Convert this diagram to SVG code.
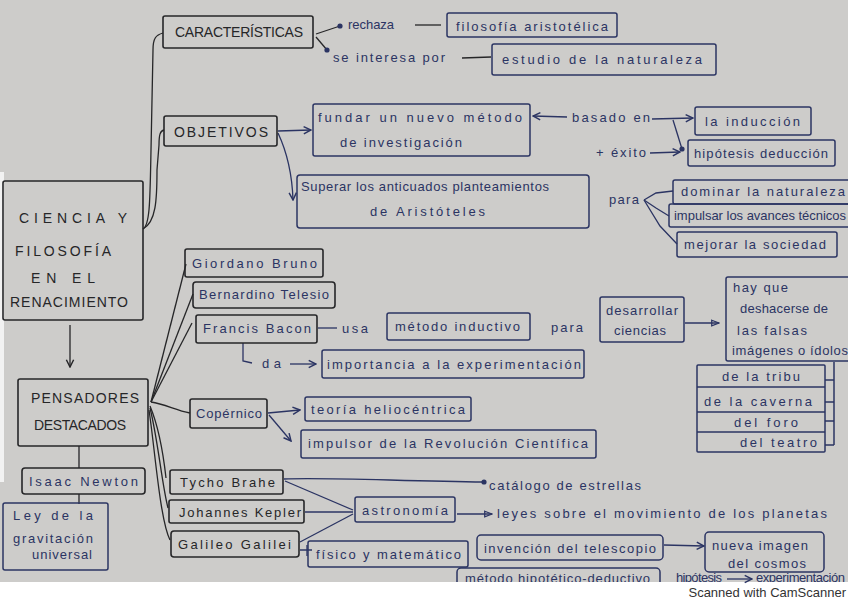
<svg xmlns="http://www.w3.org/2000/svg" width="848" height="600" viewBox="0 0 848 600">
<defs>
<style>
.k{fill:none;stroke:#262628;stroke-width:1.6;stroke-linejoin:round}
.u{fill:none;stroke:#2b3463;stroke-width:1.5;stroke-linejoin:round}
.c{fill:none;stroke:#2b3463;stroke-width:1.3}
.ck{fill:none;stroke:#262628;stroke-width:1.3}
text{font-family:"Liberation Sans","DejaVu Sans",sans-serif;font-size:13px;fill:#2b3463;lengthAdjust:spacing}
.tk{fill:#262628}
.cap{font-size:14px;fill:#262628}
</style>
<clipPath id="paper"><rect x="0" y="0" width="848" height="582"/></clipPath>
<marker id="ar" viewBox="0 0 10 10" refX="9" refY="5" markerWidth="7" markerHeight="7" orient="auto"><path d="M1,1 L9,5 L1,9" fill="none" stroke="#2b3463" stroke-width="1.6"/></marker>
<marker id="ark" viewBox="0 0 10 10" refX="9" refY="5" markerWidth="7" markerHeight="7" orient="auto"><path d="M1,1 L9,5 L1,9" fill="none" stroke="#262628" stroke-width="1.6"/></marker>
<marker id="dot" viewBox="0 0 10 10" refX="5" refY="5" markerWidth="5" markerHeight="5"><circle cx="5" cy="5" r="4" fill="#2b3463"/></marker>
<marker id="tri" viewBox="0 0 10 10" refX="9" refY="5" markerWidth="7" markerHeight="7" orient="auto"><path d="M1,2 L9,5 L1,8 Z" fill="none" stroke="#2b3463" stroke-width="1.4"/></marker>
</defs>
<rect x="0" y="0" width="848" height="600" fill="#ffffff"/>
<rect x="0" y="0" width="848" height="582" fill="#cdccca"/>
<rect x="0" y="172" width="4" height="310" fill="#f2f2f2"/>

<g id="connectors">
<path class="ck" d="M143,229 C150,225 150,200 151,150 L153,50 C153,38 156,35 163,33"/>
<path class="ck" d="M143,229 C156,222 157,200 157,170 L159,145 C159,135 160,131 164,130"/>
<path class="ck" d="M316,34 L340,26" marker-end="url(#dot)"/>
<path class="ck" d="M415,25 L441,25"/>
<path class="ck" d="M316,37 L327,50" marker-end="url(#dot)"/>
<path class="ck" d="M462,58 L491,57"/>
<path class="c" d="M278,131 L311,130" marker-end="url(#ar)"/>
<path class="c" d="M278,133 C286,150 292,170 293,200" marker-end="url(#ar)"/>
<path class="c" d="M567,117 L533,116" marker-end="url(#ar)"/>
<path class="c" d="M652,119 L693,118" marker-end="url(#ar)"/>
<path class="c" d="M673,120 L682,149" marker-end="url(#dot)"/>
<path class="c" d="M650,153 L680,152" marker-end="url(#ar)"/>
<path class="c" d="M644,200 L656,193 L673,191"/>
<path class="c" d="M644,200 L656,208 L669,216"/>
<path class="c" d="M644,200 L660,226 L677,244"/>
<path class="ck" d="M70,325 L70,367" marker-end="url(#ark)"/>
<path class="ck" d="M79,446 L79,468 M79,494 L79,504"/>
<path class="ck" d="M151,402 L186,264"/>
<path class="ck" d="M151,402 L193,294"/>
<path class="ck" d="M151,402 L192,323"/>
<path class="ck" d="M151,402 C165,404 175,410 190,413"/>
<path class="ck" d="M150,406 C160,430 164,460 166,478"/>
<path class="ck" d="M150,408 C158,440 162,485 168,508"/>
<path class="ck" d="M149,410 C155,450 160,520 170,540"/>
<path class="c" d="M318,328 L337,328"/>
<path class="c" d="M243,343 L243,361 L252,363"/>
<path class="c" d="M290,364 L316,364" marker-end="url(#ar)"/>
<path class="c" d="M685,323 L719,323" marker-end="url(#tri)"/>
<path class="u" d="M825,380 L834,380 M825,402 L834,402 M825,421 L834,421 M825,445 L834,445 M834,362 L834,445"/>
<path class="c" d="M268,413 L300,410" marker-end="url(#ar)"/>
<path class="c" d="M269,415 L291,441" marker-end="url(#ar)"/>
<path class="c" d="M284,479 C320,477 400,481 484,482" marker-end="url(#dot)"/>
<path class="c" d="M285,481 L353,510"/>
<path class="c" d="M305,512 L353,512"/>
<path class="c" d="M300,542 L353,514"/>
<path class="c" d="M457,514 L492,514" marker-end="url(#tri)"/>
<path class="c" d="M300,550 L312,550 M307,545 L307,556"/>
<path class="c" d="M664,545 L704,546" marker-end="url(#ar)"/>
<path class="c" d="M727,579 L752,579" marker-end="url(#ar)"/>
</g>

<g id="main"><rect class="k" x="3" y="181" width="140" height="139" rx="2"/>
<text class="cap" x="19" y="223" textLength="108" font-size="15">CIENCIA Y</text>
<text class="cap" x="15" y="256" textLength="96">FILOSOFÍA</text>
<text class="cap" x="31" y="283" textLength="64">EN EL</text>
<text class="cap" x="10" y="307" textLength="118">RENACIMIENTO</text></g>

<g id="caracteristicas"><rect class="k" x="163" y="16" width="150" height="32" rx="2"/><text class="cap" x="175" y="37" textLength="128" font-size="13">CARACTERÍSTICAS</text></g>
<g id="rechaza"><text x="348" y="29" textLength="46">rechaza</text></g>
<g id="filosofia"><rect class="u" x="447" y="13" width="170" height="24" rx="2"/><text x="456" y="31" textLength="152">filosofía aristotélica</text></g>
<g id="seinteresa"><text x="333" y="62" textLength="112">se interesa por</text></g>
<g id="estudio"><rect class="u" x="492" y="44" width="224" height="31" rx="2"/><text x="502" y="64" textLength="200">estudio de la naturaleza</text></g>

<g id="objetivos"><rect class="k" x="164" y="116" width="113" height="30" rx="2"/><text class="cap" x="174" y="137" textLength="94" font-size="15">OBJETIVOS</text></g>
<g id="fundar"><rect class="u" x="313" y="104" width="217" height="52" rx="2"/><text x="318" y="122" textLength="204">fundar un nuevo método</text><text x="340" y="147" textLength="122">de investigación</text></g>
<g id="basado"><text x="572" y="122" textLength="78">basado en</text></g>
<g id="induccion"><rect class="u" x="695" y="107" width="116" height="28" rx="2"/><text x="705" y="126" textLength="95">la inducción</text></g>
<g id="exito"><text x="596" y="157" textLength="50">+ éxito</text></g>
<g id="hipotesis"><rect class="u" x="688" y="140" width="147" height="26" rx="2"/><text x="694" y="158" textLength="134">hipótesis deducción</text></g>
<g id="superar"><rect class="u" x="297" y="175" width="292" height="53" rx="3"/><text x="301" y="191" textLength="248">Superar los anticuados planteamientos</text><text x="370" y="216" textLength="115">de Aristóteles</text></g>
<g id="para1"><text x="609" y="204" textLength="30">para</text></g>
<g id="dominar"><rect class="u" x="673" y="180" width="180" height="24" rx="2"/><text x="681" y="196" textLength="164">dominar la naturaleza</text></g>
<g id="impulsar"><rect class="u" x="669" y="204" width="184" height="23" rx="2"/><text x="674" y="220" textLength="172">impulsar los avances técnicos</text></g>
<g id="mejorar"><rect class="u" x="677" y="232" width="160" height="25" rx="2"/><text x="684" y="249" textLength="142">mejorar la sociedad</text></g>

<g id="pensadores"><rect class="k" x="18" y="379" width="130" height="67" rx="2"/><text class="cap" x="31" y="403" textLength="108">PENSADORES</text><text class="cap" x="34" y="430" textLength="92">DESTACADOS</text></g>
<g id="newton"><rect class="k" x="22" y="468" width="123" height="26" rx="3"/><text x="29" y="486" textLength="109">Isaac Newton</text></g>
<g id="ley"><rect class="u" x="3" y="503" width="105" height="67" rx="2"/><text x="13" y="520" textLength="80">Ley de la</text><text x="13" y="543" textLength="80">gravitación</text><text x="32" y="559" textLength="60">universal</text></g>

<g id="bruno"><rect class="k" x="185" y="249" width="138" height="28" rx="2"/><text x="192" y="268" textLength="125">Giordano Bruno</text></g>
<g id="telesio"><rect class="k" x="193" y="282" width="142" height="26" rx="3"/><text x="199" y="299" textLength="130">Bernardino Telesio</text></g>
<g id="bacon"><rect class="k" x="196" y="315" width="121" height="28" rx="2"/><text x="203" y="333" textLength="108">Francis Bacon</text></g>
<g id="usa"><text x="342" y="333" textLength="26">usa</text></g>
<g id="inductivo"><rect class="u" x="387" y="313" width="143" height="27" rx="2"/><text x="395" y="331" textLength="125">método inductivo</text></g>
<g id="para2"><text x="551" y="332" textLength="32">para</text></g>
<g id="desarrollar"><rect class="u" x="600" y="297" width="84" height="45" rx="2"/><text x="606" y="315" textLength="72">desarrollar</text><text x="614" y="335" textLength="52">ciencias</text></g>
<g id="idolos"><rect class="u" x="726" y="277" width="130" height="84" rx="2"/><text x="733" y="292" textLength="55">hay que</text><text x="740" y="313" textLength="88">deshacerse de</text><text x="737" y="335" textLength="70">las falsas</text><text x="732" y="355" textLength="116">imágenes o ídolos</text></g>
<g id="da"><text x="262" y="368" textLength="19">da</text></g>
<g id="importancia"><rect class="u" x="322" y="350" width="262" height="28" rx="2"/><text x="327" y="369" textLength="254">importancia a la experimentación</text></g>
<g id="tabla"><rect class="u" x="697" y="365" width="128" height="87" rx="1"/><path class="u" d="M697,387 L825,387 M697,412 L825,412 M697,432 L825,432"/>
<text x="722" y="381" textLength="78">de la tribu</text><text x="704" y="406" textLength="108">de la caverna</text><text x="734" y="427" textLength="64">del foro</text><text x="740" y="447" textLength="77">del teatro</text></g>

<g id="copernico"><rect class="k" x="190" y="399" width="77" height="29" rx="2"/><text x="196" y="418" textLength="66">Copérnico</text></g>
<g id="heliocentrica"><rect class="u" x="305" y="397" width="166" height="24" rx="2"/><text x="311" y="414" textLength="154">teoría heliocéntrica</text></g>
<g id="revolucion"><rect class="u" x="301" y="430" width="295" height="28" rx="2"/><text x="308" y="448" textLength="280">impulsor de la Revolución Científica</text></g>

<g id="tycho"><rect class="k" x="170" y="470" width="113" height="24" rx="2"/><text class="tk" x="180" y="487" textLength="95">Tycho Brahe</text></g>
<g id="kepler"><rect class="k" x="169" y="500" width="135" height="23" rx="2"/><text class="tk" x="179" y="517" textLength="122">Johannes Kepler</text></g>
<g id="galileo"><rect class="k" x="171" y="531" width="128" height="26" rx="3"/><text class="tk" x="178" y="549" textLength="113">Galileo Galilei</text></g>
<g id="catalogo"><text x="489" y="490" textLength="152">catálogo de estrellas</text></g>
<g id="astronomia"><rect class="u" x="355" y="497" width="100" height="25" rx="2"/><text x="362" y="515" textLength="86">astronomía</text></g>
<g id="leyes"><text x="497" y="518" textLength="330">leyes sobre el movimiento de los planetas</text></g>
<g id="fisico"><rect class="u" x="308" y="541" width="160" height="26" rx="2"/><text x="316" y="559" textLength="145">físico y matemático</text></g>
<g id="telescopio"><rect class="u" x="477" y="535" width="186" height="25" rx="4"/><text x="484" y="553" textLength="172">invención del telescopio</text></g>
<g id="cosmos"><rect class="u" x="705" y="532" width="119" height="40" rx="4"/><text x="712" y="550" textLength="96">nueva imagen</text><text x="728" y="568" textLength="78">del cosmos</text></g>
<g id="metodo" clip-path="url(#paper)"><rect class="u" x="457" y="568" width="203" height="24" rx="4"/><text x="465" y="583" font-size="11" textLength="185">método hipotético-deductivo</text></g>
<g id="hipexp" clip-path="url(#paper)"><text x="676" y="582" font-size="11" textLength="46">hipótesis</text><text x="756" y="582" font-size="11" textLength="89">experimentación</text></g>

<text x="846" y="596.5" text-anchor="end" font-size="9.5" style="fill:#333333;font-family:'Liberation Sans',sans-serif">Scanned with CamScanner</text>
</svg>
